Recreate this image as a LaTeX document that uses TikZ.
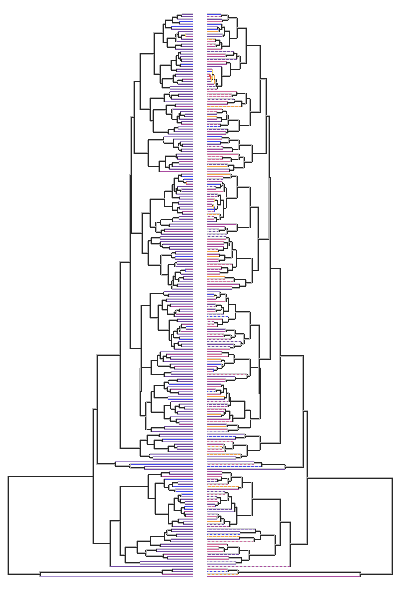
\documentclass[tikz,border=0pt]{standalone}
\usepackage{tikz}
\definecolor{pur}{RGB}{115,75,165}
\definecolor{lav}{RGB}{165,140,205}
\definecolor{blu}{RGB}{70,70,235}
\definecolor{pnk}{RGB}{210,110,160}
\definecolor{mag}{RGB}{170,75,160}
\definecolor{org}{RGB}{245,160,70}
\definecolor{yel}{RGB}{245,215,100}
\definecolor{rd}{RGB}{225,80,70}
\tikzset{
  br/.style  ={draw=black!85, line width=0.6pt, preaction={draw=black!28, line width=1.7pt}},
  lbg/.style ={draw=black!18, line width=1.5pt},
  lfc/.style ={line width=0.7pt},
  ldsh/.style={line width=0.7pt, dash pattern=on 2.5pt off 1.5pt},
}
\newcommand\dy{2.5}
\newcommand\xend{193}
\newcommand\side{0}
% one tip: from x to the middle gap
\newcommand\lf[2]{%
  \pgfmathrandominteger\kc{1}{12}%
  \pgfmathrandominteger\kd{1}{10}%
  \draw[lbg] (#1,#2) -- (\xend,#2);
  \ifnum\side=0
    \edef\lcol{\ifcase\numexpr\kc\relax\or pur\or pur\or pur\or pur\or pur\or lav\or lav\or lav\or lav\or blu\or pur\or mag\fi}%
    \draw[lfc, draw=\lcol] (#1,#2) -- (\xend,#2);
  \else
    \edef\lcol{\ifcase\numexpr\kc\relax\or pnk\or pnk\or pnk\or mag\or mag\or pur\or pur\or lav\or org\or pnk\or blu\or mag\fi}%
    \ifnum\kd<5
      \draw[ldsh, draw=\lcol] (#1,#2) -- (\xend,#2);
    \else
      \draw[lfc, draw=\lcol] (#1,#2) -- (\xend,#2);
    \fi
  \fi}
% a clade: node x, first tip y, number of tips; its middle goes to \cy
\newcommand\clade[3]{%
  \begingroup
  \pgfmathtruncatemacro\qa{max(1,min(#3-1,round(#3*(0.1+0.8*rnd))))}%
  \pgfmathtruncatemacro\qb{#3-\qa}%
  \pgfmathsetmacro\qy{#2+\qa*\dy}%
  \ifnum\qa=1
    \lf{#1}{#2}\edef\qya{#2}%
  \else
    \pgfmathsetmacro\qxa{#1+(\xend-#1)*(0.06+0.32*rnd)}%
    \edef\nxt{\noexpand\clade{\qxa}{#2}{\qa}}\nxt
    \let\qya\cy
    \draw[br] (#1,\qya) -- (\qxa,\qya);
  \fi
  \ifnum\qb=1
    \lf{#1}{\qy}\let\qyb\qy
  \else
    \pgfmathsetmacro\qxb{#1+(\xend-#1)*(0.06+0.32*rnd)}%
    \edef\nxt{\noexpand\clade{\qxb}{\qy}{\qb}}\nxt
    \let\qyb\cy
    \draw[br] (#1,\qyb) -- (\qxb,\qyb);
  \fi
  \pgfmathtruncatemacro\qn{(#1>185)?1:0}%
  \ifnum\qn=1
    \pgfmathrandominteger\qk{1}{4}%
    \edef\qc{\ifcase\numexpr\qk\relax\or rd\or blu\or org\or yel\fi}%
    \draw[line width=0.7pt, draw=\qc] (#1,\qya) -- (#1,\qyb);
  \else
    \draw[br] (#1,\qya) -- (#1,\qyb);
  \fi
  \pgfmathsetmacro\qm{(\qya+\qyb)/2}%
  \xdef\cy{\qm}%
  \endgroup}
% join two stems at x
\newcommand\jn[5]{%
  \draw[br] (#3,#2) -- (#1,#2) -- (#1,#4) -- (#5,#4);
  \pgfmathsetmacro\qm{(#2+#4)/2}\xdef\cy{\qm}}
% whole tree of one side
\newcommand\halftree{%
  \clade{163}{14}{15}\let\cA\cy
  \clade{160}{51.5}{16}\let\cB\cy
  \clade{150}{91.5}{18}\let\cC\cy
  \clade{148}{136.5}{15}\let\cD\cy
  \clade{150}{174}{25}\let\cE\cy
  \clade{148}{236.5}{22}\let\cF\cy
  \clade{150}{291.5}{24}\let\cG\cy
  \clade{140}{351.5}{33}\let\cH\cy
  \clade{140}{434}{11}\let\cHb\cy
  \clade{115}{461.5}{4}\let\cI\cy
  \clade{148}{471.5}{23}\let\cJ\cy
  \clade{125}{529}{15}\let\cK\cy
  \clade{162}{569}{3}\let\cL\cy
  \jn{154}{\cA}{163}{\cB}{160}\let\pA\cy
  \jn{140}{\pA}{154}{\cC}{150}\let\pB\cy
  \jn{134}{\pB}{140}{\cD}{148}\let\pC\cy
  \jn{142}{\cE}{150}{\cF}{148}\let\pD\cy
  \jn{131}{\pC}{134}{\pD}{142}\let\pE\cy
  \jn{141}{\cG}{150}{\cH}{140}\let\pF\cy
  \jn{130}{\pE}{131}{\pF}{141}\let\pG\cy
  \jn{120}{\pG}{130}{\cHb}{140}\let\pH\cy
  \jn{97}{\pH}{120}{\cI}{115}\let\pI\cy
  \jn{120}{\cJ}{148}{\cK}{125}\let\pJ\cy
  \jn{110}{\pJ}{120}{566.5}{110}\let\pK\cy
  \lf{110}{566.5}
  \jn{93}{\pI}{97}{\pK}{110}\let\pL\cy
  \jn{40}{\cL}{162}{576.5}{40}\let\pM\cy
  \lf{40}{576.5}
  \jn{8}{\pL}{93}{\pM}{40}}
\begin{document}
\begin{tikzpicture}[x=1pt, y=-1pt]
  \fill[white] (0,0) rectangle (400,600);
  \useasboundingbox (0,0) rectangle (400,600);
  % left tree
  \pgfmathsetseed{4021}
  \halftree
  % right tree, mirrored
  \begin{scope}[shift={(400,0)}, xscale=-1]
    \def\side{1}
    \pgfmathsetseed{977}
    \halftree
  \end{scope}
\end{tikzpicture}
\end{document}
